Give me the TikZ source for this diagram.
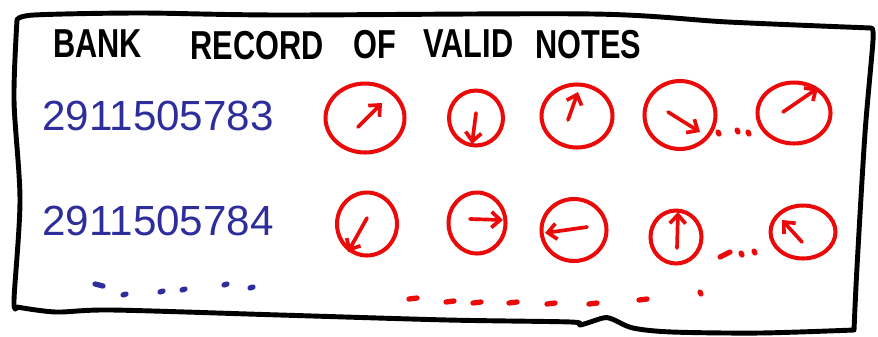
\documentclass[tikz,border=0pt]{standalone}
\usepackage{fontspec}
\setmainfont{Liberation Sans}
\usetikzlibrary{shapes.geometric, arrows.meta, calc}
\usepackage{xcolor}
\definecolor{inkblue}{RGB}{45,45,155}
\definecolor{inkred}{RGB}{235,10,10}
\newcommand{\squeeze}[1]{\scalebox{0.76}[1]{#1}}
\tikzset{
  border/.style  = {line width=2.8pt, draw=black, line join=round, line cap=round},
  heading/.style = {font=\fontsize{23}{23}\selectfont\bfseries, inner sep=0pt, anchor=base west},
  serial/.style  = {font=\fontsize{24}{24}\selectfont, text=inkblue, inner sep=0pt,
                    anchor=base west},
  note/.style    = {draw=inkred, ellipse, line width=2.3pt, inner sep=0pt},
  needle/.style  = {-{Straight Barb[length=5pt, width=9pt]}, line width=2.1pt,
                    draw=inkred, line cap=round},
  dab/.style     = {line width=3pt, line cap=round}
}

\begin{document}
\begin{tikzpicture}[x=0.02cm, y=-0.02cm]
\useasboundingbox (0,0) rectangle (878,336);

% the sheet
\draw[border] plot[smooth, tension=0.5] coordinates {(17,20) (34,15) (140,13) (280,15) (593,14) (728,22) (871,28)}
  -- plot[smooth, tension=0.5] coordinates {(871,28) (873,40) (865,133) (857,267) (854,330)}
  -- plot[smooth, tension=0.5] coordinates {(854,330) (760,333) (672,332) (633,328) (612,319) (603,318) (580,325) (571,322) (448,320) (280,315) (112,310) (56,312) (17,307)}
  -- plot[smooth, tension=0.5] coordinates {(17,307) (14,300) (20,200) (14,100) (17,20)};

% heading
\node[heading] at ( 53,57) (w1) {\squeeze{BANK}};
\node[heading] at (190,59) (w2) {\squeeze{RECORD}};
\node[heading] at (353,58) (w3) {\squeeze{OF}};
\node[heading] at (423,57) (w4) {\squeeze{VALID}};
\node[heading] at (535,58) (w5) {\squeeze{NOTES}};

% serial numbers
\node[serial] at (42,130) (s1) {2911505783};
\node[serial] at (42,235) (s2) {2911505784};

% first row of notes
\node[note, minimum width=1.58cm, minimum height=1.38cm] at (365,118) (a1) {};
\node[note, minimum width=1.08cm, minimum height=1.10cm] at (476,118) (a2) {};
\node[note, minimum width=1.42cm, minimum height=1.26cm] at (577,116) (a3) {};
\node[note, minimum width=1.42cm, minimum height=1.36cm] at (680,115) (a4) {};
\node[note, minimum width=1.46cm, minimum height=1.22cm] at (794,113) (a5) {};

% second row of notes
\node[note, minimum width=1.20cm, minimum height=1.26cm] at (367,224) (b1) {};
\node[note, minimum width=1.14cm, minimum height=1.22cm] at (477,223) (b2) {};
\node[note, minimum width=1.30cm, minimum height=1.24cm] at (574,230) (b3) {};
\node[note, minimum width=1.02cm, minimum height=1.06cm] at (676,237) (b4) {};
\node[note, minimum width=1.30cm, minimum height=1.06cm] at (803,232) (b5) {};

% hands
\foreach \n/\tx/\ty/\hx/\hy in {a1/-7/9/17/-15, a2/0/-5/-4/26, a3/-9/4/1/-24,
    a4/-12/-3/20/17, a5/-11/-1/24/-25, b1/0/-6/-19/28, b2/-7/-4/26/-3,
    b3/13/-3/-29/3, b4/1/11/2/-25, b5/-1/10/-21/-12}
  \draw[needle] ($(\n.center)+(\tx,\ty)$) -- ($(\n.center)+(\hx,\hy)$);

% dots
\foreach \p in {(718,132), (737,130), (748,132), (741,253), (754,251), (700,292)}
  \draw[dab, inkred] \p -- ++(1,2);
\draw[dab, inkred] (720,257) -- (730,252);
\foreach \x/\y in {409/299, 446/302, 473/303, 509/303, 547/304, 589/304, 639/300}
  \draw[dab, inkred] (\x,\y) -- ++(8,-1);
\draw[dab, inkblue] (95,284) -- (103,286);
\foreach \p in {(123,295), (160,292), (182,290), (224,285), (250,288)}
  \draw[dab, inkblue] \p -- ++(3,-1);
\end{tikzpicture}
\end{document}
